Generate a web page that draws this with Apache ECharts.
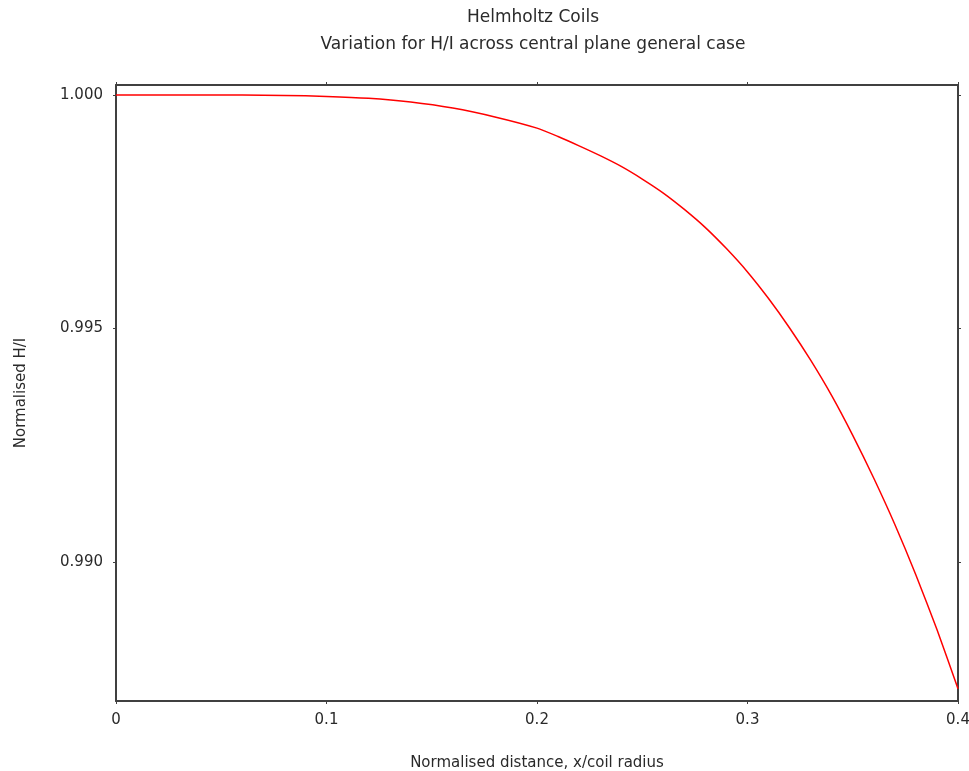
<!DOCTYPE html>
<html>
<head>
<meta charset="utf-8">
<script src="https://cdn.jsdelivr.net/npm/echarts@6/dist/echarts.min.js"></script>
<style>html,body{margin:0;padding:0;background:#fff;}#c{width:969px;height:771px;}</style>
</head>
<body>
<div id="c"></div>
<script>
var titleLines = ['Helmholtz Coils', 'Variation for H/I across central plane general case'];
var xName = 'Normalised distance, x/coil radius';
var yName = 'Normalised H/I';
var xValues = [0, 0.02, 0.04, 0.06, 0.08, 0.10, 0.12, 0.14, 0.16, 0.18, 0.20, 0.21, 0.22, 0.23, 0.24, 0.25, 0.26, 0.27, 0.28, 0.29, 0.30, 0.31, 0.32, 0.33, 0.34, 0.35, 0.36, 0.37, 0.38, 0.39, 0.40];
var hValues = [1.00000, 1.00000, 1.00000, 1.00000, 0.99999, 0.99997, 0.99993, 0.99985, 0.99972, 0.99953, 0.99929, 0.99911, 0.99891, 0.99870, 0.99847, 0.99820, 0.99790, 0.99755, 0.99716, 0.99671, 0.99621, 0.99564, 0.99501, 0.99432, 0.99356, 0.99271, 0.99179, 0.99080, 0.98972, 0.98855, 0.98728];
var xTicks = [0, 0.1, 0.2, 0.3, 0.4];
var yTicks = [0.990, 0.995, 1.000];
var yMin = 0.98702, yMax = 1.000214;

var data = xValues.map(function (x, i) { return [x, hValues[i]]; });
var font = 'DejaVu Sans';
var lineC = '#404040';
var txtC = '#2a2a2a';

var chart = echarts.init(document.getElementById('c'), null, { renderer: 'canvas' });
chart.setOption({
  backgroundColor: '#ffffff',
  animation: false,
  title: {
    text: titleLines.join('\n'),
    left: 528, top: -1, textAlign: 'center',
    textStyle: { fontFamily: font, fontSize: 17, fontWeight: 'normal', color: txtC, lineHeight: 27 }
  },
  grid: { left: 116, right: 11, top: 85, bottom: 70, containLabel: false, outerBoundsMode: 'none' },
  xAxis: [{
    type: 'value', min: 0, max: 0.4, interval: 0.1, position: 'bottom',
    name: xName, nameLocation: 'middle', nameGap: 55,
    nameTextStyle: { fontFamily: font, fontSize: 15, color: txtC },
    axisLine: { show: true, onZero: false, lineStyle: { color: lineC, width: 2 } },
    axisTick: { show: true, inside: false, length: 3, lineStyle: { color: lineC } },
    axisLabel: { fontFamily: font, fontSize: 15, color: txtC, margin: 12,
      customValues: xTicks, formatter: function (v) { return v === 0 ? '0' : String(+v.toFixed(1)); } },
    splitLine: { show: false }
  }, {
    type: 'value', min: 0, max: 0.4, interval: 0.1, position: 'top',
    axisLine: { show: true, onZero: false, lineStyle: { color: lineC, width: 2 } },
    axisTick: { show: true, inside: false, length: 3, lineStyle: { color: lineC } },
    axisLabel: { show: false }, splitLine: { show: false }
  }],
  yAxis: [{
    type: 'value', min: yMin, max: yMax, position: 'left',
    name: yName, nameLocation: 'middle', nameGap: 87, nameRotate: 90,
    nameTextStyle: { fontFamily: font, fontSize: 15, color: txtC },
    axisLine: { show: true, onZero: false, lineStyle: { color: lineC, width: 2 } },
    axisTick: { show: true, inside: false, length: 3, customValues: yTicks, lineStyle: { color: lineC } },
    axisLabel: { fontFamily: font, fontSize: 15, color: txtC, margin: 13, customValues: yTicks,
      formatter: function (v) { return v.toFixed(3); } },
    splitLine: { show: false }
  }, {
    type: 'value', min: yMin, max: yMax, position: 'right',
    axisLine: { show: true, onZero: false, lineStyle: { color: lineC, width: 2 } },
    axisTick: { show: true, inside: false, length: 3, customValues: yTicks, lineStyle: { color: lineC } },
    axisLabel: { show: false }, splitLine: { show: false }
  }],
  series: [{
    type: 'line', data: data, xAxisIndex: 0, yAxisIndex: 0,
    showSymbol: false, symbol: 'none', smooth: 0.2,
    lineStyle: { color: '#ff0000', width: 1.5 }
  }]
});
</script>
</body>
</html>
